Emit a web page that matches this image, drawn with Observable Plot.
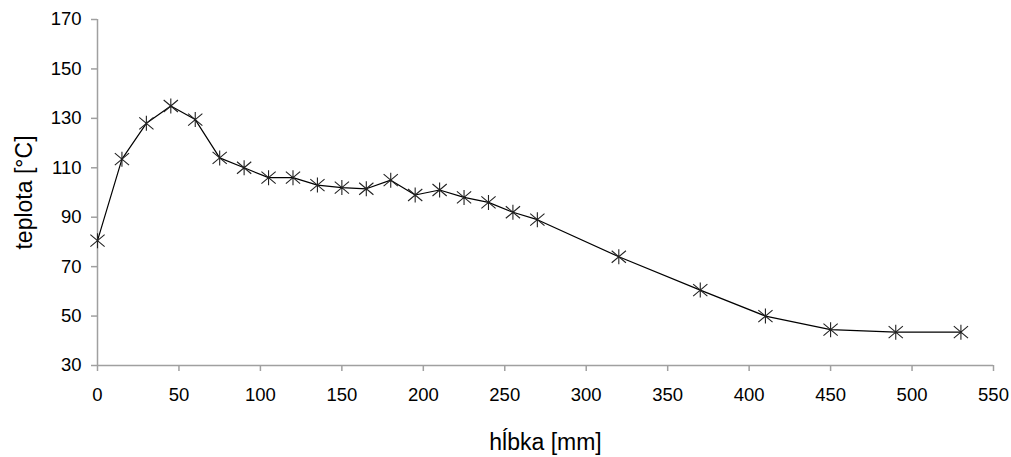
<!DOCTYPE html>
<html>
<head>
<meta charset="utf-8">
<script src="https://cdn.jsdelivr.net/npm/d3@7"></script>
<script src="https://cdn.jsdelivr.net/npm/@observablehq/plot@0.6"></script>
<style>
  html, body { margin: 0; padding: 0; background: #fff; }
  #chart { width: 1011px; height: 457px; }
</style>
</head>
<body>
<div id="chart"></div>
<script>
const depth = [0, 15, 30, 45, 60, 75, 90, 105, 120, 135, 150, 165, 180, 195, 210, 225, 240, 255, 270, 320, 370, 410, 450, 490, 530];
const temperature = [80.5, 113.5, 128, 135, 129.5, 114, 110, 106, 106, 103, 102, 101.5, 105, 99, 101, 98, 96, 92, 89, 74, 60.5, 50, 44.5, 43.5, 43.5];
const xTicks = [0, 50, 100, 150, 200, 250, 300, 350, 400, 450, 500, 550];
const yTicks = [30, 50, 70, 90, 110, 130, 150, 170];
const xLabel = "hĺbka [mm]";
const yLabel = "teplota [°C]";

const data = depth.map((d, i) => ({depth: d, temp: temperature[i]}));

// star marker: vertical stroke plus two diagonals
const star = {
  draw(context, size) {
    const r = Math.sqrt(size / Math.PI);
    context.moveTo(0, -r); context.lineTo(0, r);
    const a = r * 0.95, b = r * 0.8;
    context.moveTo(-a, -b); context.lineTo(a, b);
    context.moveTo(-a, b); context.lineTo(a, -b);
  }
};

const axisColor = "#a0a0a0";

const chart = Plot.plot({
  width: 1011,
  height: 457,
  marginLeft: 97,
  marginRight: 18,
  marginTop: 19,
  marginBottom: 92,
  style: {fontFamily: "Arial, 'Liberation Sans', sans-serif", fontSize: "18.5px", background: "#fff", color: "#000"},
  x: {domain: [0, 550]},
  y: {domain: [30, 170]},
  marks: [
    Plot.ruleX([0], {stroke: axisColor, strokeWidth: 1.5}),
    Plot.ruleY([30], {stroke: axisColor, strokeWidth: 1.5}),
    Plot.axisX({ticks: xTicks, tickSize: 6, tickPadding: 16, stroke: axisColor, strokeWidth: 1.5, fill: "#000", fontSize: 18.5, label: null}),
    Plot.axisY({ticks: yTicks, tickSize: 6, tickPadding: 10, stroke: axisColor, strokeWidth: 1.5, fill: "#000", fontSize: 18.5, label: null}),
    Plot.line(data, {x: "depth", y: "temp", stroke: "#000", strokeWidth: 1.2}),
    Plot.dot(data, {x: "depth", y: "temp", symbol: star, r: 7.5, stroke: "#222", strokeWidth: 1.1}),
    Plot.text([xLabel], {frameAnchor: "bottom", dy: 77, lineAnchor: "middle", fontSize: 23, fill: "#000"}),
    Plot.text([yLabel], {frameAnchor: "left", dx: -73, rotate: -90, lineAnchor: "middle", textAnchor: "middle", fontSize: 23, fill: "#000"})
  ]
});
document.getElementById("chart").appendChild(chart);
</script>
</body>
</html>
